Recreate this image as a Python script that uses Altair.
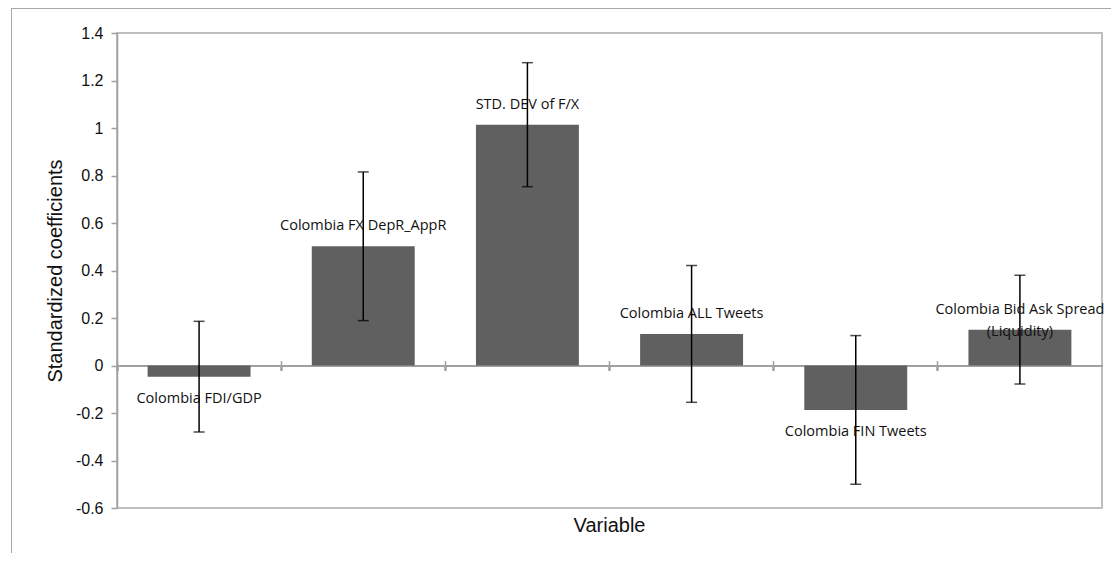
import altair as alt
import pandas as pd

# ---- data ----
variables = [
    "Colombia FDI/GDP",
    "Colombia FX DepR_AppR",
    "STD. DEV of F/X",
    "Colombia ALL Tweets",
    "Colombia FIN Tweets",
    "Colombia Bid Ask Spread\n(Liquidity)",
]
coefficients = [-0.047, 0.502, 1.014, 0.133, -0.187, 0.151]
errors = [0.233, 0.313, 0.261, 0.288, 0.313, 0.229]
y_ticks = [-0.6, -0.4, -0.2, 0, 0.2, 0.4, 0.6, 0.8, 1, 1.2, 1.4]
x_title = ["Variable"]

df = pd.DataFrame({"variable": variables, "coef": coefficients, "err": errors})
df["lo"] = df["coef"] - df["err"]
df["hi"] = df["coef"] + df["err"]

W, H = 985, 475
PAD_L, PAD_T = 109, 25
PAD_R = 1103 - PAD_L - W
PAD_B = 545 - PAD_T - H
ZERO_FROM_TOP = H * (1.4 - 0) / 2.0

P_IN = 0.373
xscale = alt.Scale(domain=variables, paddingInner=P_IN, paddingOuter=P_IN / 2)
yscale = alt.Scale(domain=[-0.6, 1.4], nice=False, zero=False)
BAND_POS = -(P_IN / 2) / (1 - P_IN)

GRAY = "#a0a0a0"

x_axis_top = alt.Axis(
    orient="top", offset=-ZERO_FROM_TOP, labels=False, title=None,
    bandPosition=BAND_POS, ticks=True, tickSize=5, tickColor=GRAY, tickWidth=1.5,
    domainColor=GRAY, domainWidth=1.5, minExtent=0,
)
x_axis_bottom = alt.Axis(
    orient="bottom", offset=-(H - ZERO_FROM_TOP), labels=False, title=None,
    bandPosition=BAND_POS, ticks=True, tickSize=5, tickColor=GRAY, tickWidth=1.5,
    domainColor=GRAY, domainWidth=1.5, minExtent=0,
)
y_axis = alt.Axis(
    values=y_ticks,
    labelExpr="'' + datum.value",
    title="Standardized coefficients",
    grid=False,
    tickSize=6,
    tickColor=GRAY,
    tickWidth=1.5,
    domainColor=GRAY,
    domainWidth=1.5,
    labelFont="Liberation Sans",
    labelFontSize=16,
    labelColor="#111111",
    labelPadding=8,
    titleFont="Liberation Sans",
    titleFontSize=20,
    titleFontWeight="normal",
    titleColor="#111111",
    titlePadding=10,
    minExtent=0,
)

base = alt.Chart(df)
X_b = alt.X("variable:N", sort=variables, axis=x_axis_bottom)

bars = base.mark_bar(color="#606060").encode(
    x=alt.X("variable:N", scale=xscale, sort=variables, axis=x_axis_top),
    y=alt.Y("coef:Q", scale=yscale, axis=y_axis),
    y2=alt.datum(0),
)

err_rules = base.mark_rule(color="black", strokeWidth=1.5).encode(
    x=X_b, y=alt.Y("lo:Q", axis=y_axis), y2="hi:Q"
)

cap_lo = base.mark_tick(color="black", thickness=1.5, size=11, orient="horizontal").encode(
    x=X_b, y=alt.Y("lo:Q", axis=y_axis)
)
cap_hi = base.mark_tick(color="black", thickness=1.5, size=11, orient="horizontal").encode(
    x=X_b, y=alt.Y("hi:Q", axis=y_axis)
)

label_style = dict(font="Open Sans", fontSize=14.5, color="#111111", lineBreak="\n", lineHeight=22)

pos_text = base.transform_filter("datum.coef >= 0").mark_text(
    baseline="bottom", dy=-13, **label_style
).encode(x=X_b, y=alt.Y("coef:Q", axis=y_axis), text="variable:N")

neg_text = base.transform_filter("datum.coef < 0").mark_text(
    baseline="top", dy=15, **label_style
).encode(x=X_b, y=alt.Y("coef:Q", axis=y_axis), text="variable:N")

# x axis title as text below the plot
title_text = alt.Chart(pd.DataFrame({"t": x_title})).mark_text(
    font="Liberation Sans", fontSize=20, color="#111111", baseline="top", align="center"
).encode(x=alt.value(W / 2), y=alt.value(H + 8), text="t:N")

# outer chart border (decoration)
frame_df = pd.DataFrame({"k": [0]})
frame_left = alt.Chart(frame_df).mark_rule(color="#a8a8a8", strokeWidth=1).encode(
    x=alt.value(-PAD_L + 3.5), y=alt.value(-PAD_T), y2=alt.value(H + PAD_B)
)
frame_top = alt.Chart(frame_df).mark_rule(color="#a8a8a8", strokeWidth=1).encode(
    x=alt.value(-PAD_L + 3.5), x2=alt.value(W + PAD_R), y=alt.value(-PAD_T + 0.5)
)

chart = (
    alt.layer(bars, err_rules, cap_lo, cap_hi, pos_text, neg_text, title_text, frame_left, frame_top)
    .properties(
        width=W,
        height=H,
        autosize=alt.AutoSizeParams(type="none"),
        padding={"left": PAD_L, "top": PAD_T, "right": PAD_R, "bottom": PAD_B},
        background="white",
    )
    .configure_view(stroke="#bfbfbf", strokeWidth=2)
)

chart.save("out.html", embed_options={"renderer": "svg", "actions": False})
